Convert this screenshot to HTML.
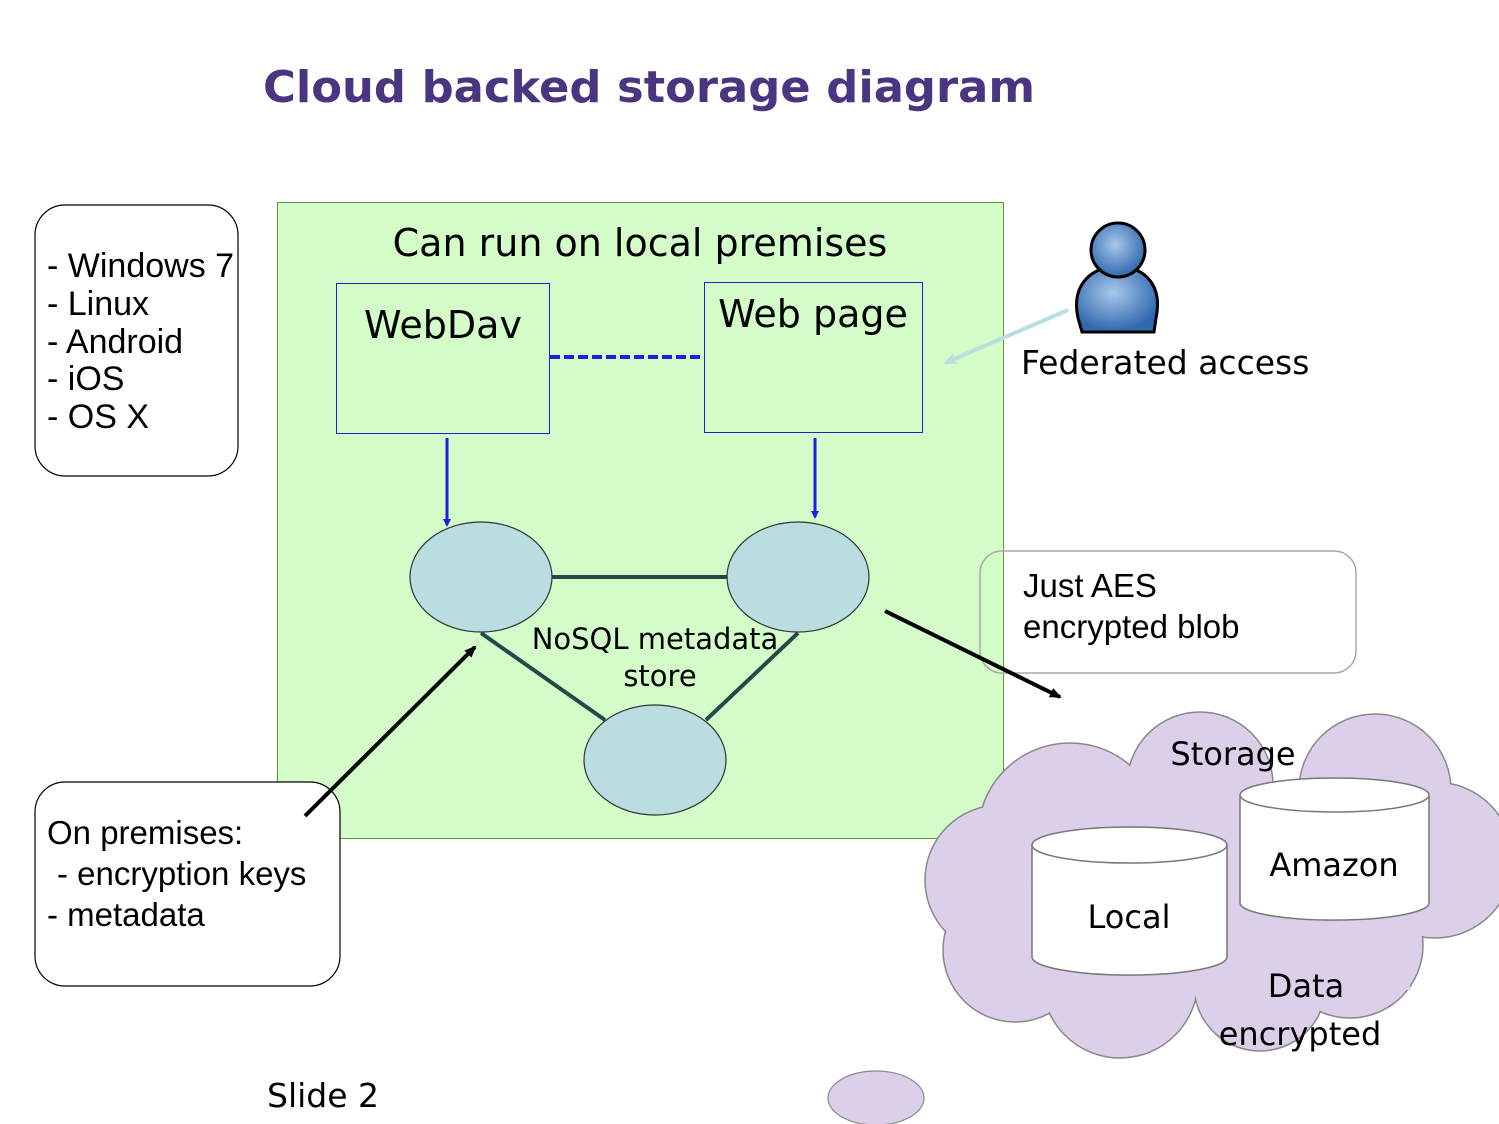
<!DOCTYPE html>
<html><head><meta charset="utf-8"><style>html,body{margin:0;padding:0;background:#fff}svg{display:block}</style></head>
<body>
<svg width="1499" height="1124" viewBox="0 0 1499 1124" xmlns="http://www.w3.org/2000/svg">
<defs>
<marker id="ab" markerWidth="8" markerHeight="8" refX="6" refY="4" orient="auto" markerUnits="userSpaceOnUse"><path d="M0,0 L8,4 L0,8 z" fill="#1a22e0"/></marker>
<marker id="ak" markerWidth="12" markerHeight="10" refX="10" refY="5" orient="auto" markerUnits="userSpaceOnUse"><path d="M0,0 L12,5 L0,10 z" fill="#000"/></marker>
<marker id="al" markerWidth="14" markerHeight="12" refX="12" refY="6" orient="auto" markerUnits="userSpaceOnUse"><path d="M0,0 L14,6 L0,12 L4,6 z" fill="#b8e0e0"/></marker>
<radialGradient id="pg" cx="0.45" cy="0.4" r="0.6"><stop offset="0" stop-color="#a9c8ec"/><stop offset="1" stop-color="#2f68ad"/></radialGradient>
</defs>
<text x="263" y="102" font-family="DejaVu Sans, sans-serif" font-weight="bold" font-size="44" fill="#4a3580" textLength="772" lengthAdjust="spacingAndGlyphs">Cloud backed storage diagram</text>

<rect x="277.5" y="202.5" width="726" height="636" fill="#d3fcc8" stroke="#5a9a3a" stroke-width="1"/>

<!-- cloud -->
<g stroke="#888" stroke-width="1.5" fill="#dccfea">
<circle cx="1070" cy="835" r="92"/><circle cx="1200" cy="785" r="73"/><circle cx="1375" cy="790" r="76"/><circle cx="1435" cy="860" r="78"/>
<circle cx="1000" cy="880" r="75"/><circle cx="1015" cy="950" r="72"/><circle cx="1120" cy="980" r="78"/><circle cx="1260" cy="985" r="66"/><circle cx="1350" cy="945" r="73"/>
</g>
<g fill="#dccfea">
<circle cx="1070" cy="835" r="91"/><circle cx="1200" cy="785" r="72"/><circle cx="1375" cy="790" r="75"/><circle cx="1435" cy="860" r="77"/>
<circle cx="1000" cy="880" r="74"/><circle cx="1015" cy="950" r="71"/><circle cx="1120" cy="980" r="77"/><circle cx="1260" cy="985" r="65"/><circle cx="1350" cy="945" r="72"/>
<rect x="1030" y="790" width="380" height="200"/>
</g>
<ellipse cx="876" cy="1098" rx="48" ry="27" fill="#dccfea" stroke="#888" stroke-width="1.2"/>

<!-- cylinders -->
<g stroke="#777" stroke-width="1.5" fill="#fff">
<path d="M1032,845 L1032,957 A97,18 0 0 0 1227,957 L1227,845"/>
<ellipse cx="1129.5" cy="845" rx="97.5" ry="18"/>
<path d="M1240,795 L1240,903 A94,17 0 0 0 1429,903 L1429,795"/>
<ellipse cx="1334.5" cy="795" rx="94.5" ry="17"/>
</g>
<g font-family="DejaVu Sans, sans-serif" font-size="32" fill="#000">
<text x="1233" y="765" text-anchor="middle">Storage</text>
<text x="1334" y="876" text-anchor="middle">Amazon</text>
<text x="1129" y="928" text-anchor="middle">Local</text>
<text x="1306" y="997" text-anchor="middle">Data</text>
<text x="1300" y="1045" text-anchor="middle">encrypted</text>
</g>

<!-- left boxes -->
<rect x="35" y="205" width="203" height="271" rx="30" fill="#fff" stroke="#000" stroke-width="1.2"/>
<g font-family="Liberation Sans, Arial, sans-serif" font-size="34" fill="#000">
<text x="47" y="277">- Windows 7</text><text x="47" y="315">- Linux</text><text x="47" y="353">- Android</text><text x="47" y="390">- iOS</text><text x="47" y="428">- OS X</text>
</g>
<rect x="35" y="782" width="305" height="204" rx="30" fill="#fff" stroke="#000" stroke-width="1.2"/>
<g font-family="Liberation Sans, Arial, sans-serif" font-size="33" fill="#000">
<text x="47" y="844">On premises:</text><text x="57" y="885">- encryption keys</text><text x="47" y="926">- metadata</text>
</g>

<rect x="980" y="551" width="376" height="122" rx="22" fill="none" stroke="#aaa" stroke-width="1.5"/>
<g font-family="Liberation Sans, Arial, sans-serif" font-size="33" fill="#000">
<text x="1023" y="597">Just AES</text><text x="1023" y="638">encrypted blob</text>
</g>

<text x="640" y="256" font-family="DejaVu Sans, sans-serif" font-size="38" text-anchor="middle" fill="#000">Can run on local premises</text>
<rect x="336.5" y="283.5" width="213" height="150" fill="none" stroke="#1a22e0" stroke-width="1"/>
<rect x="704.5" y="282.5" width="218" height="150" fill="none" stroke="#1a22e0" stroke-width="1"/>
<text x="443" y="338" font-family="DejaVu Sans, sans-serif" font-size="38" text-anchor="middle">WebDav</text>
<text x="813" y="327" font-family="DejaVu Sans, sans-serif" font-size="38" text-anchor="middle">Web page</text>
<line x1="550" y1="357" x2="704" y2="357" stroke="#1a22e0" stroke-width="4" stroke-dasharray="10,4"/>
<line x1="447" y1="438" x2="447" y2="525" stroke="#1a22e0" stroke-width="3" marker-end="url(#ab)"/>
<line x1="815" y1="438" x2="815" y2="517" stroke="#1a22e0" stroke-width="3" marker-end="url(#ab)"/>

<g stroke="#234a4a" stroke-width="4">
<line x1="552" y1="577" x2="727" y2="577"/>
<line x1="481" y1="633" x2="605" y2="720"/>
<line x1="798" y1="633" x2="706" y2="720"/>
</g>
<g fill="#b9dde0" stroke="#333" stroke-width="1.2">
<ellipse cx="481" cy="577" rx="71" ry="55"/>
<ellipse cx="798" cy="577" rx="71" ry="55"/>
<ellipse cx="655" cy="760" rx="71" ry="55"/>
</g>
<g font-family="DejaVu Sans, sans-serif" font-size="29" fill="#000" text-anchor="middle">
<text x="655" y="649">NoSQL metadata</text><text x="660" y="686">store</text>
</g>

<line x1="305" y1="816" x2="475" y2="647" stroke="#000" stroke-width="4" marker-end="url(#ak)"/>
<line x1="885" y1="611" x2="1060" y2="697" stroke="#000" stroke-width="4" marker-end="url(#ak)"/>
<line x1="1068" y1="310" x2="945" y2="363" stroke="#b8e0e0" stroke-width="4" marker-end="url(#al)"/>

<!-- person -->
<path d="M1078,318 C1072,290 1085,268 1118,266 C1150,268 1162,290 1156,318 L1154,332 L1082,332 Z" fill="url(#pg)" stroke="#000" stroke-width="3"/>
<circle cx="1118" cy="250" r="27" fill="url(#pg)" stroke="#000" stroke-width="3"/>
<text x="1021" y="374" font-family="DejaVu Sans, sans-serif" font-size="33" fill="#000">Federated access</text>

<text x="267" y="1107" font-family="DejaVu Sans, sans-serif" font-size="33" fill="#000">Slide 2</text>
</svg>
</body></html>
